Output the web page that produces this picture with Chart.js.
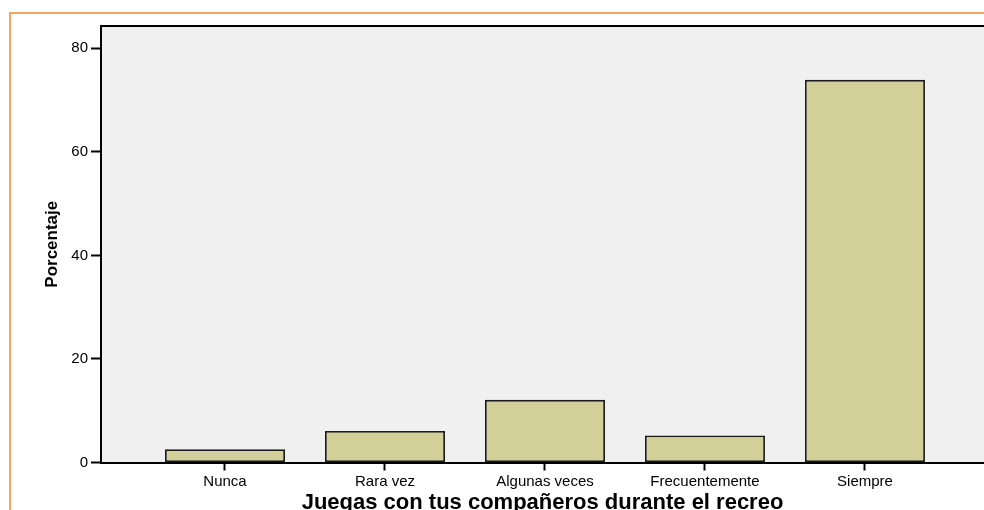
<!DOCTYPE html>
<html>
<head>
<meta charset="utf-8">
<script src="https://cdn.jsdelivr.net/npm/chart.js@4/dist/chart.umd.min.js"></script>
<style>
  html, body { margin: 0; padding: 0; background: #ffffff; overflow: hidden; }
  #wrap { position: relative; width: 984px; height: 510px; }
  #frame { position: absolute; left: 9px; top: 12px; width: 1000px; height: 520px;
           border-left: 2px solid #f9a35e; border-top: 2px solid #f9a35e; pointer-events: none; }
  canvas { display: block; }
</style>
</head>
<body>
<div id="wrap">
  <canvas id="c" width="984" height="510"></canvas>
  <div id="frame"></div>
</div>
<script>
const categories = ["Nunca", "Rara vez", "Algunas veces", "Frecuentemente", "Siempre"];
const percentages = [2.55, 6.1, 12.1, 5.2, 73.9];
const yTicks = [0, 20, 40, 60, 80];
const xTitle = "Juegas con tus compañeros durante el recreo";
const yTitle = "Porcentaje";

const plotBg = {
  id: 'plotBg',
  beforeDraw(chart) {
    const { ctx, chartArea: a } = chart;
    ctx.save();
    ctx.fillStyle = '#f0f0f0';
    ctx.fillRect(a.left, a.top, a.right - a.left, a.bottom - a.top);
    ctx.restore();
  },
  afterDraw(chart) {
    const { ctx, chartArea: a } = chart;
    ctx.save();
    ctx.strokeStyle = '#000';
    ctx.lineWidth = 2;
    ctx.beginPath();
    ctx.moveTo(a.left, a.top);
    ctx.lineTo(a.right, a.top);
    ctx.stroke();
    ctx.restore();
  }
};

new Chart(document.getElementById('c'), {
  type: 'bar',
  data: {
    datasets: [{
      data: percentages.map((v, i) => ({ x: i, y: v })),
      backgroundColor: '#d3cf99',
      borderColor: '#1a1a1a',
      borderWidth: 1.8,
      borderSkipped: false,
      barPercentage: 0.75,
      categoryPercentage: 1
    }]
  },
  options: {
    responsive: false,
    animation: false,
    devicePixelRatio: 1,
    layout: { padding: { top: 26, right: 0, left: 0, bottom: 0 } },
    plugins: { legend: { display: false }, tooltip: { enabled: false } },
    scales: {
      x: {
        type: 'linear',
        offset: false,
        min: -0.775,
        max: 4.744,
        afterBuildTicks(scale) { scale.ticks = categories.map((_, i) => ({ value: i })); },
        afterFit(scale) { scale.height = 47.5; },
        grid: { offset: false, drawOnChartArea: false, drawTicks: true, tickLength: 8, tickColor: '#000', tickWidth: 2 },
        border: { display: true, color: '#000', width: 2 },
        ticks: {
          autoSkip: false, maxRotation: 0, padding: 2, color: '#000',
          font: { family: 'Liberation Sans, Arial, sans-serif', size: 15 },
          callback: (v) => categories[v] ?? ''
        },
        title: {
          display: true, text: xTitle, color: '#000',
          font: { family: 'Liberation Sans, Arial, sans-serif', size: 22, weight: 'bold' },
          padding: { top: 0, bottom: -6 }
        }
      },
      y: {
        min: 0,
        max: 84.3,
        afterBuildTicks(scale) { scale.ticks = yTicks.map(v => ({ value: v })); },
        afterFit(scale) { scale.width = 101; },
        grid: { drawOnChartArea: false, drawTicks: true, tickLength: 10, tickColor: '#000', tickWidth: 2 },
        border: { display: true, color: '#000', width: 2 },
        ticks: {
          padding: 3, color: '#000',
          font: { family: 'Liberation Sans, Arial, sans-serif', size: 15 }
        },
        title: {
          display: true, text: yTitle, color: '#000',
          font: { family: 'Liberation Sans, Arial, sans-serif', size: 17, weight: 'bold' },
          padding: { top: 42, bottom: 0 }
        }
      }
    }
  },
  plugins: [plotBg]
});
</script>
</body>
</html>
